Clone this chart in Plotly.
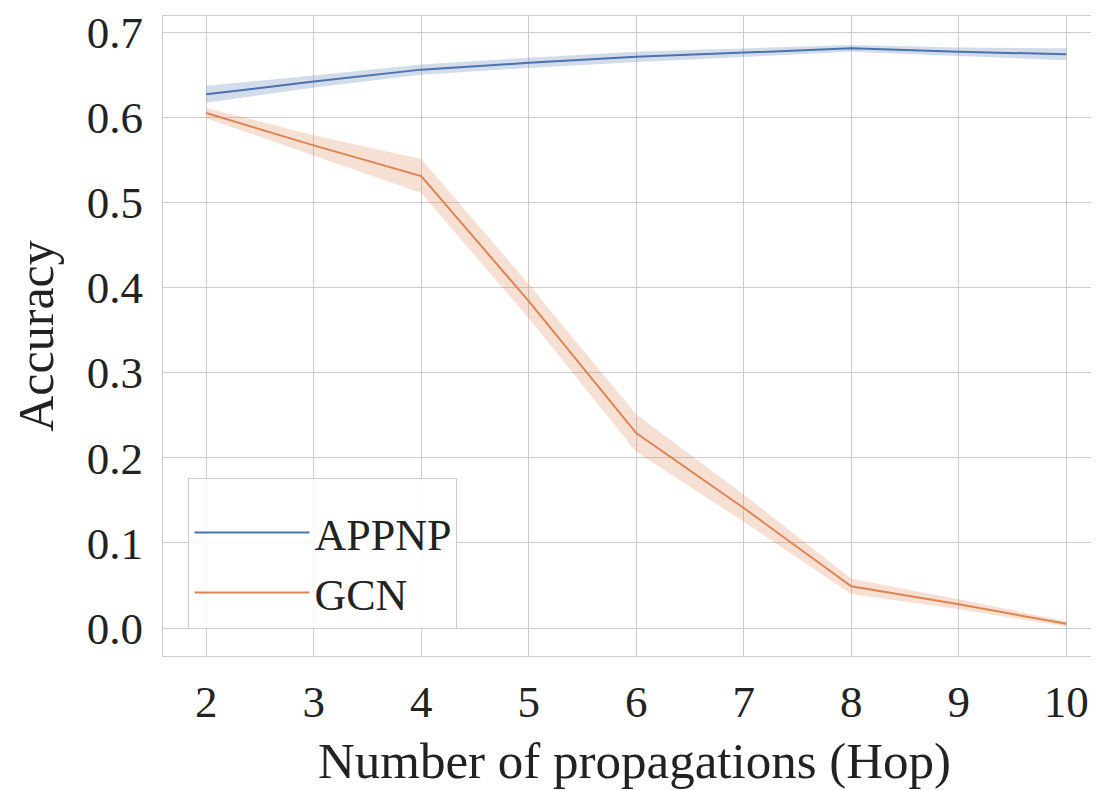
import plotly.graph_objects as go

hops = [2, 3, 4, 5, 6, 7, 8, 9, 10]
appnp_mean = [0.627, 0.642, 0.656, 0.664, 0.671, 0.676, 0.681, 0.677, 0.674]
appnp_err = [0.010, 0.007, 0.006, 0.006, 0.006, 0.005, 0.004, 0.005, 0.007]
gcn_mean = [0.605, 0.567, 0.531, 0.384, 0.229, 0.141, 0.049, 0.028, 0.005]
gcn_err = [0.006, 0.012, 0.020, 0.020, 0.022, 0.016, 0.009, 0.006, 0.003]

series = [
    ("APPNP", appnp_mean, appnp_err, "#4C72B0", "rgba(76,114,176,0.25)"),
    ("GCN", gcn_mean, gcn_err, "#DD8452", "rgba(221,132,82,0.25)"),
]

FONT = "Liberation Serif"
fig = go.Figure()
for name, mean, err, color, fill in series:
    hi = [m + e for m, e in zip(mean, err)]
    lo = [m - e for m, e in zip(mean, err)]
    fig.add_trace(go.Scatter(x=hops, y=hi, mode="lines", line=dict(width=0),
                             showlegend=False, hoverinfo="skip"))
    fig.add_trace(go.Scatter(x=hops, y=lo, mode="lines", line=dict(width=0),
                             fill="tonexty", fillcolor=fill,
                             showlegend=False, hoverinfo="skip"))
    fig.add_trace(go.Scatter(x=hops, y=mean, mode="lines", name=name,
                             line=dict(color=color, width=2)))

axis_common = dict(
    showgrid=True, gridcolor="#cccccc", gridwidth=1,
    showline=True, linecolor="#cccccc", linewidth=1, mirror=True,
    zeroline=False, ticks="", ticklabeloverflow="allow",
    tickfont=dict(family=FONT, size=45, color="#222222"),
)

fig.update_layout(
    width=1099, height=790,
    paper_bgcolor="white", plot_bgcolor="white",
    margin=dict(l=155, r=0, t=5, b=142),
    font=dict(family=FONT, color="#222222"),
    xaxis=dict(range=[1.598, 10.37], tickmode="array", tickvals=hops,
               ticktext=[str(h) for h in hops], ticklabelstandoff=6,
               title=dict(text="Number of propagations (Hop)",
                          font=dict(family=FONT, size=51, color="#222222"),
                          standoff=16),
               **axis_common),
    yaxis=dict(range=[-0.0328, 0.719], tickmode="array",
               tickvals=[0.0, 0.1, 0.2, 0.3, 0.4, 0.5, 0.6, 0.7],
               ticktext=["0.0", "0.1", "0.2", "0.3", "0.4", "0.5", "0.6", "0.7"],
               ticklabelstandoff=10,
               title=dict(text="Accuracy",
                          font=dict(family=FONT, size=50, color="#222222"),
                          standoff=22),
               **axis_common),
    legend=dict(x=0.027, y=0.278, xanchor="left", yanchor="top",
                traceorder="normal",
                title=dict(text=" ", font=dict(size=14)),
                bgcolor="rgba(255,255,255,0.85)", bordercolor="#cccccc",
                borderwidth=1, font=dict(family=FONT, size=44, color="#222222"),
                itemwidth=115),
)

fig.write_html("out.html")
